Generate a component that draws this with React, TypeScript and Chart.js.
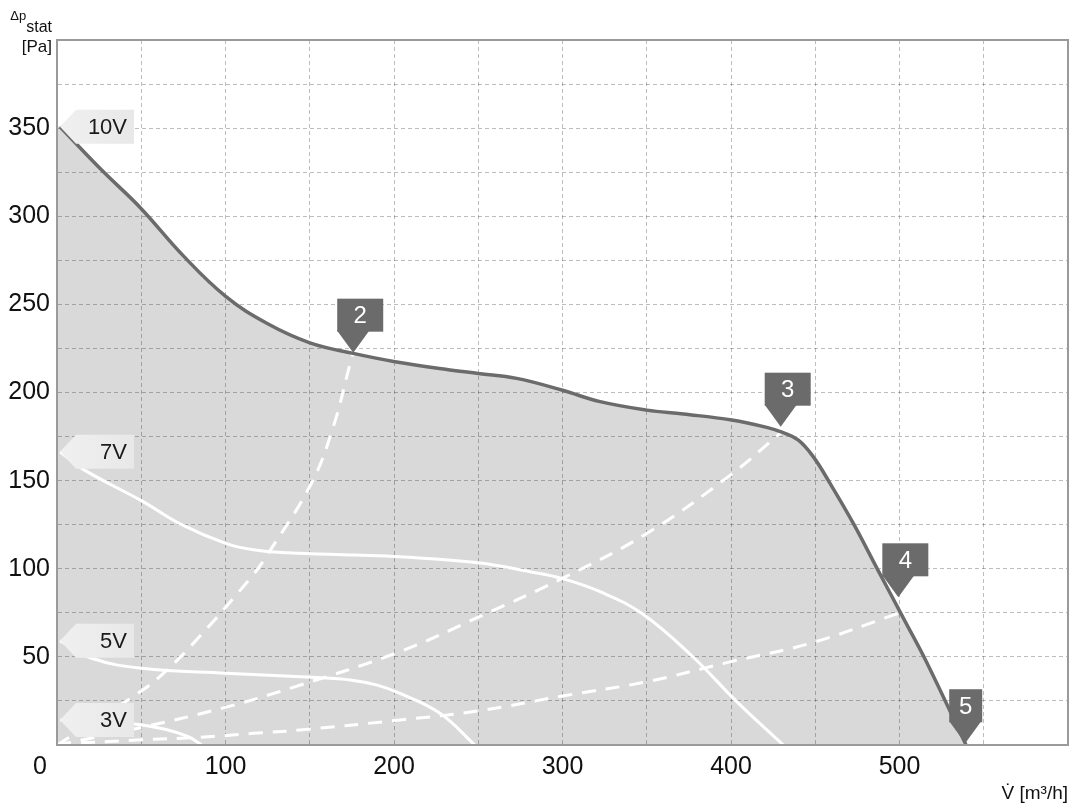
import { useEffect, useRef } from 'react';
import { Chart, registerables } from 'chart.js';

Chart.register(...registerables);

const FONT = "'Liberation Sans', Arial, Helvetica, sans-serif";

// Fan curves: [airflow m³/h, static pressure Pa]
const curve10V: [number, number][] = [
  [1.8, 350.8], [26.5, 326.2], [49.3, 305], [75, 277.5], [100.3, 254.4], [124.5, 239.3],
  [150.1, 228.2], [175.8, 222.2], [200.6, 217.5], [233.2, 212.8], [250, 210.8],
  [272.8, 208], [299.5, 201.4], [322.3, 194.8], [350, 190], [371.7, 187.8], [400.4, 184.4],
  [421.2, 180.2], [431, 177.2], [440, 173], [448.8, 163.6], [458.8, 148.4], [472.6, 125.7],
  [486.5, 100.5], [502.3, 72], [516.1, 47], [539.5, 0],
];
const curve7V: [number, number][] = [
  [1.8, 166.4], [15.6, 156.4], [50.3, 138.5], [74, 125], [100.1, 114.4], [117.5, 110.6],
  [137.1, 109.1], [176.9, 107.8], [203.6, 106.8], [250, 103.4], [280.7, 98.3], [300, 94.4],
  [322.3, 87], [347, 74.7], [377.6, 49.8], [403.4, 24.6], [431, 0],
];
const curve5V: [number, number][] = [
  [1.8, 59.2], [20.6, 49.2], [50.3, 43.5], [100.1, 40.7], [151.2, 38.4], [175, 36.8],
  [190, 34], [203.6, 29.3], [227.3, 18], [248, 0],
];
const curve3V: [number, number][] = [
  [1.8, 14.2], [45.3, 11.9], [64.1, 8.9], [77.9, 4.7], [85.9, 0],
];

// System (duct) curves through the operating points
const system2: [number, number][] = [
  [0, 0], [4.7, 2.8], [48, 29.3], [62, 39.7], [80, 56.7], [115.5, 95.5], [125.4, 108.8],
  [151, 148.5], [164, 180.6], [174, 216.6], [175.8, 222.6],
];
const system3: [number, number][] = [
  [0, 0], [48, 9.5], [97.7, 20.8], [141, 33], [203.6, 53], [250.7, 72.8], [300, 94.6],
  [350, 120], [399.4, 153], [430, 177.5],
];
const system4: [number, number][] = [
  [0, 0.5], [47, 2.8], [85, 4.4], [116.5, 6.6], [144.2, 8.5], [203.6, 14.2], [250, 19.3],
  [300, 27.8], [350, 35.9], [400, 47.3], [447, 57.7], [499.3, 74.7],
];

const curveNames = ['10V', '7V', '5V', '3V'];
const pointNames = ['2', '3', '4', '5'];
const pointFlow = [175.8, 429.5, 499.3, 539];
const pointPressure = [222.6, 180.6, 83.8, 1];

const flowTickLabels = [100, 200, 300, 400, 500];
const pressureTickLabels = [50, 100, 150, 200, 250, 300, 350];
const originLabel = '0';
const yTitleSymbol = 'Δp';
const yTitleSub = 'stat';
const yTitleUnit = '[Pa]';
const xTitle = 'V\u0307 [m³/h]';

const toXY = (pts: [number, number][]) => pts.map(([x, y]) => ({ x, y }));

const overlayPlugin = {
  id: 'overlay',
  afterDatasetsDraw(chart: any) {
    const { ctx, chartArea: a, scales } = chart;
    const xs = scales.x;
    const ys = scales.y;
    ctx.save();
    // frame
    ctx.strokeStyle = '#9a9a9a';
    ctx.lineWidth = 2;
    ctx.setLineDash([]);
    ctx.strokeRect(a.left, a.top, a.right - a.left, a.bottom - a.top);

    // curve labels (left-pointing tags)
    const curves = [curve10V, curve7V, curve5V, curve3V];
    curves.forEach((c, i) => {
      const px = xs.getPixelForValue(c[0][0]);
      const py = ys.getPixelForValue(c[0][1]);
      ctx.beginPath();
      ctx.moveTo(px, py);
      ctx.lineTo(px + 16, py - 17);
      ctx.lineTo(px + 74, py - 17);
      ctx.lineTo(px + 74, py + 17);
      ctx.lineTo(px + 16, py + 17);
      ctx.closePath();
      const g = ctx.createLinearGradient(px, 0, px + 74, 0);
      g.addColorStop(0, '#f0f0f0');
      g.addColorStop(1, '#e8e8e8');
      ctx.fillStyle = g;
      ctx.fill();
      ctx.fillStyle = '#1a1a1a';
      ctx.font = `22px ${FONT}`;
      ctx.textAlign = 'right';
      ctx.textBaseline = 'middle';
      ctx.fillText(curveNames[i], px + 67, py + 1);
    });

    // operating point markers
    pointNames.forEach((name, i) => {
      const tx = xs.getPixelForValue(pointFlow[i]);
      const ty = ys.getPixelForValue(pointPressure[i]);
      const w = i === pointNames.length - 1 ? 33 : 46;
      const left = tx - 16;
      const top = ty - 54;
      ctx.fillStyle = '#6b6b6b';
      ctx.fillRect(left, top, w, 33);
      ctx.beginPath();
      ctx.moveTo(left, top + 32);
      ctx.lineTo(left + 32, top + 32);
      ctx.lineTo(tx, ty);
      ctx.closePath();
      ctx.fill();
      ctx.fillStyle = '#ffffff';
      ctx.font = `24px ${FONT}`;
      ctx.textAlign = 'center';
      ctx.textBaseline = 'middle';
      ctx.fillText(name, left + w / 2, top + 18);
    });
    ctx.restore();
  },
  afterDraw(chart: any) {
    const { ctx, chartArea: a, scales } = chart;
    ctx.save();
    ctx.fillStyle = '#111';
    // origin label
    ctx.font = `25px ${FONT}`;
    ctx.textAlign = 'center';
    ctx.textBaseline = 'middle';
    ctx.fillText(originLabel, scales.x.getPixelForValue(0) - 17, a.bottom + 7 + 15);

    // y title
    const right = a.left - 5;
    ctx.textBaseline = 'alphabetic';
    ctx.textAlign = 'right';
    ctx.font = `17px ${FONT}`;
    ctx.fillText(yTitleUnit, right, a.top + 12);
    ctx.font = `16px ${FONT}`;
    ctx.fillText(yTitleSub, right, a.top - 8);
    const subW = ctx.measureText(yTitleSub).width;
    ctx.font = `13px ${FONT}`;
    ctx.fillText(yTitleSymbol, right - subW, a.top - 20);

    // x title
    ctx.font = `19px ${FONT}`;
    ctx.textAlign = 'right';
    ctx.fillText(xTitle, a.right, a.bottom + 54);
    ctx.restore();
  },
};

export default function App() {
  const ref = useRef<HTMLCanvasElement | null>(null);

  useEffect(() => {
    document.body.style.margin = '0';
    const canvas = ref.current;
    if (!canvas) return;

    const white = '#ffffff';
    const common = {
      pointRadius: 0,
      tension: 0.4,
      fill: false,
    };

    const chart = new Chart(canvas, {
      type: 'line',
      data: {
        datasets: [
          { ...common, data: toXY(curve10V), borderColor: '#6b6b6b', borderWidth: 3.5, order: 0 },
          { ...common, data: toXY(system2), borderColor: white, borderWidth: 3, borderDash: [14, 10], order: 1 },
          { ...common, data: toXY(system3), borderColor: white, borderWidth: 3, borderDash: [14, 10], order: 1 },
          { ...common, data: toXY(system4), borderColor: white, borderWidth: 3, borderDash: [14, 10], order: 1 },
          { ...common, data: toXY(curve7V), borderColor: white, borderWidth: 3, order: 2 },
          { ...common, data: toXY(curve5V), borderColor: white, borderWidth: 3, order: 2 },
          { ...common, data: toXY(curve3V), borderColor: white, borderWidth: 3, order: 2 },
          {
            ...common,
            data: [{ x: 0, y: curve10V[0][1] }, ...toXY(curve10V)],
            fill: 'origin',
            backgroundColor: 'rgba(0,0,0,0.15)',
            borderColor: 'rgba(0,0,0,0)',
            borderWidth: 0,
            order: 9,
          },
        ] as any,
      },
      options: {
        animation: false,
        responsive: false,
        maintainAspectRatio: false,
        layout: { padding: { top: 40, right: 19, left: 0, bottom: 0 } },
        plugins: { legend: { display: false }, tooltip: { enabled: false } },
        scales: {
          x: {
            type: 'linear',
            min: 0,
            max: 600,
            ticks: {
              stepSize: 50,
              autoSkip: false,
              maxRotation: 0,
              padding: 7,
              color: '#111',
              font: { family: FONT, size: 25 },
              callback: (v: any) => (flowTickLabels.includes(Number(v)) ? String(v) : ''),
            },
            grid: { color: 'rgba(0,0,0,0.26)', lineWidth: 1, drawTicks: false },
            border: { display: true, color: '#9a9a9a', width: 2, dash: [4, 3] },
            afterFit: (s: any) => { s.height = 66; },
          },
          y: {
            type: 'linear',
            min: 0,
            max: 400,
            ticks: {
              stepSize: 25,
              autoSkip: false,
              padding: 7,
              color: '#111',
              font: { family: FONT, size: 25 },
              callback: (v: any) => (pressureTickLabels.includes(Number(v)) ? String(v) : ''),
            },
            grid: { color: 'rgba(0,0,0,0.26)', lineWidth: 1, drawTicks: false },
            border: { display: true, color: '#9a9a9a', width: 2, dash: [4, 3] },
            afterFit: (s: any) => { s.width = 57; },
          },
        },
      } as any,
      plugins: [overlayPlugin],
    });

    return () => chart.destroy();
  }, []);

  return <canvas ref={ref} width={1087} height={811} style={{ display: 'block' }} />;
}
